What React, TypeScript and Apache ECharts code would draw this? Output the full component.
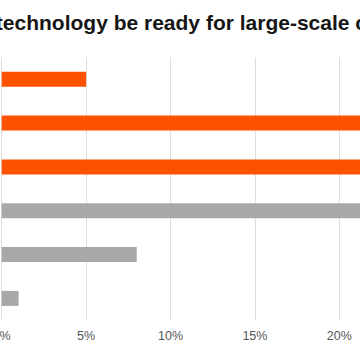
import React, { useEffect, useRef } from "react";
import * as echarts from "echarts";

const categories = [
  "Already ready",
  "Within 1 year",
  "1–3 years",
  "3–5 years",
  "5–10 years",
  "More than 10 years",
];
const values = [5, 28, 31, 27, 8, 1];
const barColors = ["#FF5200", "#FF5200", "#FF5200", "#A8A7A9", "#A8A7A9", "#A8A7A9"];
const titleText = "When will this technology be ready for large-scale commercialization?";
const xTicks = { min: 0, max: 35, interval: 5 };

const OFF = 200;
const CHART_W = 830;

export default function App() {
  const ref = useRef<HTMLDivElement>(null);
  useEffect(() => {
    if (!ref.current) return;
    const chart = echarts.init(ref.current, undefined, { renderer: "svg" });
    chart.setOption({
      animation: false,
      title: {
        text: titleText,
        left: OFF - 150,
        top: 12,
        padding: 0,
        textStyle: {
          fontFamily: "Liberation Sans, Arial, sans-serif",
          fontSize: 21,
          fontWeight: "bold",
          color: "#161616",
        },
      },
      grid: {
        left: OFF + 1.7,
        width: 84.4 * 7,
        top: 57.3,
        bottom: 39.7,
        containLabel: false,
      },
      xAxis: {
        type: "value",
        min: xTicks.min,
        max: xTicks.max,
        interval: xTicks.interval,
        axisLine: { show: false },
        axisTick: { show: false },
        splitLine: { lineStyle: { color: "#dedede", width: 1 } },
        axisLabel: {
          formatter: (v: number) => v + "%",
          fontFamily: "Liberation Sans, Arial, sans-serif",
          fontSize: 12.5,
          color: "#555555",
          margin: 9,
        },
      },
      yAxis: {
        type: "category",
        data: categories,
        inverse: true,
        axisLine: { show: false },
        axisTick: { show: false },
        axisLabel: { show: false },
      },
      series: [
        {
          type: "bar",
          data: values.map((v, i) => ({ value: v, itemStyle: { color: barColors[i] } })),
          barWidth: 15,
        },
      ],
    });
    return () => chart.dispose();
  }, []);
  return (
    <div
      style={{
        position: "fixed",
        left: 0,
        top: 0,
        width: 360,
        height: 360,
        overflow: "hidden",
        background: "#ffffff",
      }}
    >
      <div
        ref={ref}
        style={{ position: "absolute", left: -OFF, top: 0, width: CHART_W, height: 360 }}
      />
    </div>
  );
}
